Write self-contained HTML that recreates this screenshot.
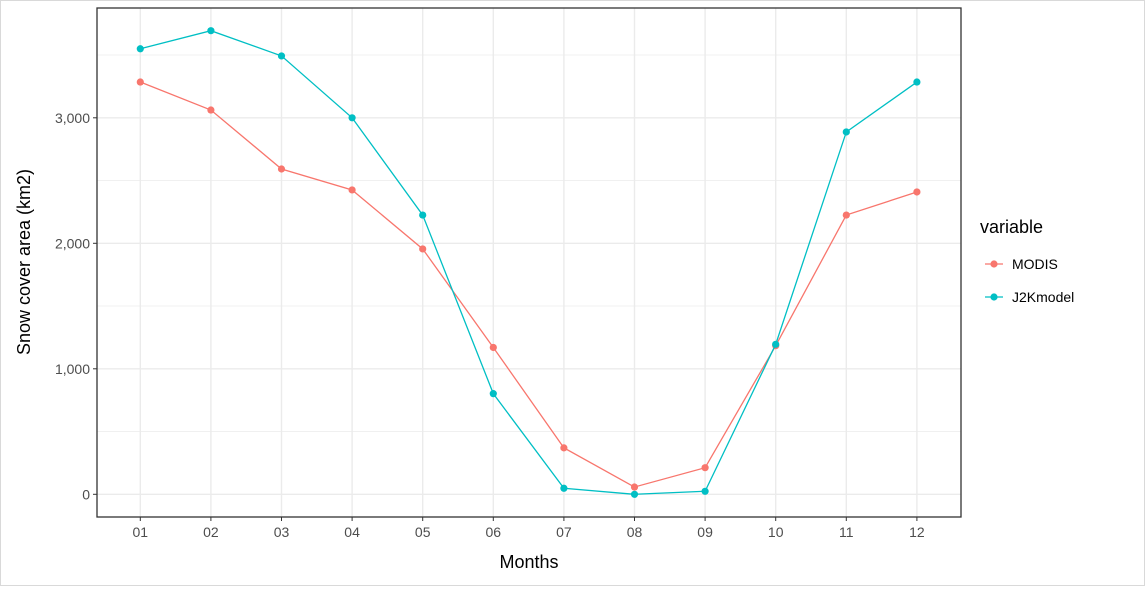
<!DOCTYPE html><html><head><style>body{margin:0;background:#fff}text{font-family:"Liberation Sans",Arial,sans-serif}</style></head><body>
<svg id="c" width="1145" height="586" xmlns="http://www.w3.org/2000/svg">
<rect x="0.5" y="0.5" width="1144" height="585" fill="#fff" stroke="#d9d9d9"/>
<g id="g"></g>
</svg>
<script>
const months=["01","02","03","04","05","06","07","08","09","10","11","12"];
const modis=[3285,3062,2592,2425,1955,1170,370,58,212,1184,2225,2409];
const j2k=[3550,3694,3493,3000,2225,802,48,0,24,1195,2887,3285];
const yTicks=[0,1000,2000,3000];
const yLabels=["0","1,000","2,000","3,000"];
const NS="http://www.w3.org/2000/svg",g=document.getElementById('g');
const L=97,R=961,T=8,B=517;
const x=i=>140.3+i*70.6, y=v=>494.3-v*0.1255;
function el(t,a,txt){const e=document.createElementNS(NS,t);for(const k in a)e.setAttribute(k,a[k]);if(txt!==undefined)e.textContent=txt;g.appendChild(e);return e;}
let e=el('rect',{x:L,y:T,width:R-L,height:B-T,fill:'#fff'});


for(let v=500;v<4000;v+=1000){e=el('line',{x1:L,x2:R,y1:y(v),y2:y(v),stroke:'#f0f0f0','stroke-width':1});

}
yTicks.forEach((v,i)=>{e=el('line',{x1:L,x2:R,y1:y(v),y2:y(v),stroke:'#ebebeb','stroke-width':1.4});


e=el('line',{x1:L-4,x2:L,y1:y(v),y2:y(v),stroke:'#333'});


e=el('text',{x:L-7,y:y(v)+5,'text-anchor':'end','font-size':14,fill:'#4d4d4d'},yLabels[i]);

});
months.forEach((m,i)=>{e=el('line',{x1:x(i),x2:x(i),y1:T,y2:B,stroke:'#ebebeb','stroke-width':1.4});


e=el('line',{x1:x(i),x2:x(i),y1:B,y2:B+4,stroke:'#333'});


e=el('text',{x:x(i),y:B+20,'text-anchor':'middle','font-size':14,fill:'#4d4d4d'},m);

});
[[modis,'#F8766D','modis'],[j2k,'#00BFC4','j2kmodel']].forEach(([d,c,n])=>{
e=el('polyline',{points:d.map((v,i)=>x(i)+','+y(v)).join(' '),fill:'none',stroke:c,'stroke-width':1.3});


d.forEach((v,i)=>{e=el('circle',{cx:x(i),cy:y(v),r:3.6,fill:c});

});});
e=el('rect',{x:L,y:T,width:R-L,height:B-T,fill:'none',stroke:'#333','stroke-width':1.3});


e=el('text',{x:(L+R)/2,y:568,'text-anchor':'middle','font-size':18,fill:'#000'},'Months');


e=el('text',{x:0,y:0,'text-anchor':'middle','font-size':18,fill:'#000',transform:'translate(30,262) rotate(-90)'},'Snow cover area (km2)');


e=el('text',{x:980,y:233,'font-size':18,fill:'#000'},'variable');


[['MODIS','#F8766D',264],['J2Kmodel','#00BFC4',297]].forEach(([t,c,yy])=>{
e=el('line',{x1:985,x2:1003,y1:yy,y2:yy,stroke:c,'stroke-width':1.3});


e=el('circle',{cx:994,cy:yy,r:3.6,fill:c});


e=el('text',{x:1012,y:yy+5,'font-size':14,fill:'#000'},t);

});
</script></body></html>
